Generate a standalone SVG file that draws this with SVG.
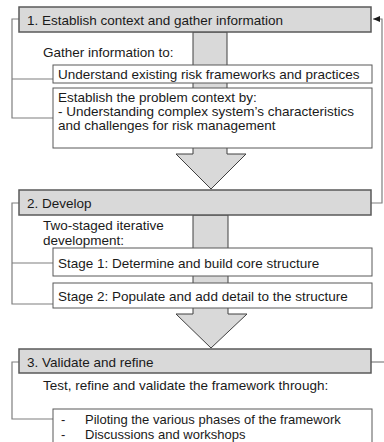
<svg xmlns="http://www.w3.org/2000/svg" width="384" height="442" viewBox="0 0 384 442">
<defs>
<style>
text{font-family:"Liberation Sans",Arial,sans-serif;font-size:13.5px;fill:#1a1a1a;dominant-baseline:central}
.sm{font-size:13px}
.hdr{fill:#d9d9d9;stroke:#595959;stroke-width:1.5}
.box{fill:#fff;stroke:#595959;stroke-width:1}
.big{fill:#d9d9d9;stroke:#404040;stroke-width:1}
.br{fill:none;stroke:#7f7f7f;stroke-width:1.2}
.fb{fill:none;stroke:#7f7f7f;stroke-width:1.2}
</style>
<marker id="ah" markerWidth="8" markerHeight="8" refX="7" refY="4" orient="auto" markerUnits="userSpaceOnUse">
<path d="M0,1 L7,4 L0,7 Z" fill="#1a1a1a"/>
</marker>
</defs>
<rect width="384" height="442" fill="#fff"/>
<g id="connectors">
<path class="br" d="M19,19 H12 V118 H53 M12,79 H53"/>
<path class="br" d="M19,203 H12 V304 H53 M12,263 H53"/>
<path class="br" d="M19,362 H12 V419 H53"/>
<path class="fb" d="M371,203 H382 V19 H373" marker-end="url(#ah)"/>
<path class="fb" d="M371,362 H384"/>
<polygon id="arrow1" class="big" points="193,32 193,154 176,154 211,189 246,154 227,154 227,32"/>
<polygon id="arrow2" class="big" points="193,215 193,314 176,314 211,348 247,314 228,314 228,215"/>
</g>
<g id="step1">
<rect class="hdr" x="19" y="7" width="352" height="25"/>
<text x="27" y="20">1. Establish context and gather information</text>
</g>
<g id="gather">
<text x="43" y="52">Gather information to:</text>
</g>
<g id="understand">
<rect class="box" x="53" y="65" width="319" height="18"/>
<text x="58" y="74">Understand existing risk frameworks and practices</text>
</g>
<g id="problem">
<rect class="box" x="53" y="88" width="319" height="60"/>
<text x="58" y="97">Establish the problem context by:</text>
<text x="58" y="111">- Understanding complex system’s characteristics</text>
<text x="58" y="125">and challenges for risk management</text>
</g>
<g id="step2">
<rect class="hdr" x="19" y="190" width="352" height="25"/>
<text x="27" y="203">2. Develop</text>
</g>
<g id="twostaged">
<text x="43" y="225">Two-staged iterative</text>
<text x="43" y="240">development:</text>
</g>
<g id="stage1">
<rect class="box" x="53" y="248" width="319" height="28"/>
<text x="58" y="263">Stage 1: Determine and build core structure</text>
</g>
<g id="stage2">
<rect class="box" x="53" y="283" width="319" height="25"/>
<text x="58" y="296">Stage 2: Populate and add detail to the structure</text>
</g>
<g id="step3">
<rect class="hdr" x="19" y="349" width="352" height="24"/>
<text x="27" y="362">3. Validate and refine</text>
</g>
<g id="test">
<text x="43" y="385">Test, refine and validate the framework through:</text>
</g>
<g id="piloting">
<rect class="box" x="53" y="409" width="319" height="40"/>
<text class="sm" x="61" y="419.5">-</text>
<text class="sm" x="85" y="419.5">Piloting the various phases of the framework</text>
<text class="sm" x="61" y="434.5">-</text>
<text class="sm" x="85" y="434.5">Discussions and workshops</text>
</g>
</svg>
